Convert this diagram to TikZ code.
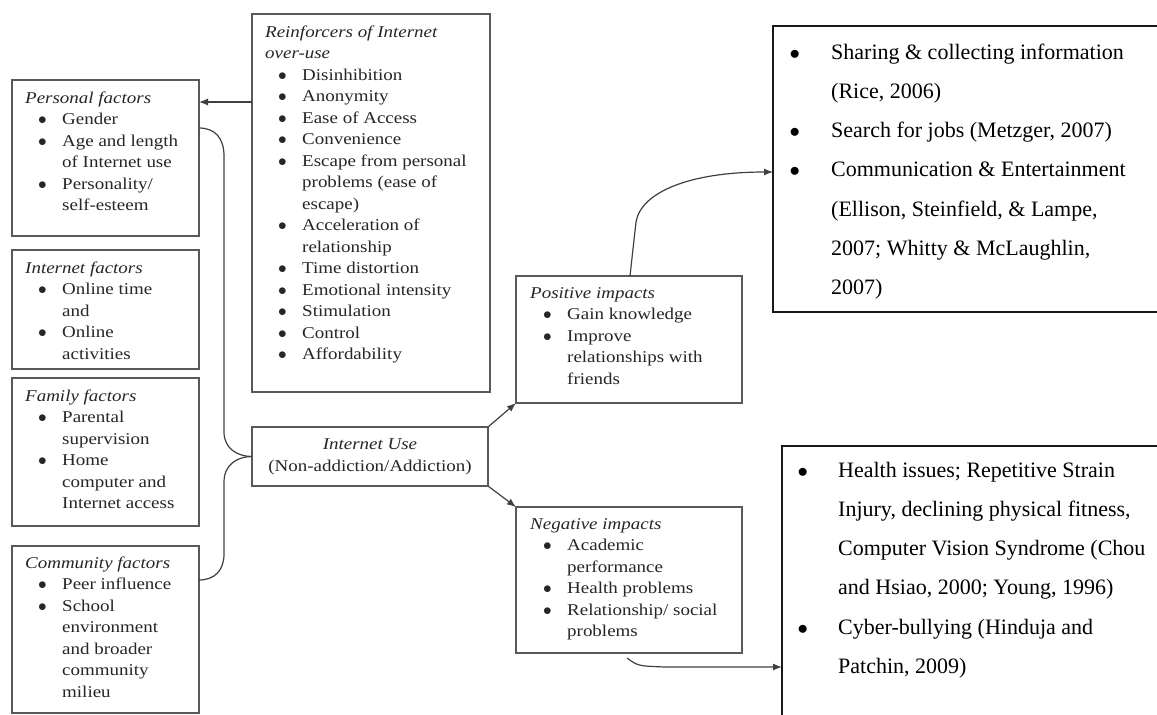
\documentclass[tikz,border=0pt]{standalone}
\usepackage{fontspec}
\setmainfont{Liberation Serif}
\newfontfamily\lfont[FakeStretch=1.15]{Liberation Serif}
\usepackage{array}
\usetikzlibrary{arrows.meta}
\newcommand\lsize{\lfont\fontsize{16.5}{21.5}\selectfont}
\newcommand\rsize{\fontsize{22}{39.2}\selectfont}
\newcommand\bul{$\bullet$}
\newcommand\ttl[1]{\multicolumn{3}{@{}l@{}}{\itshape #1}\\}
\newcommand\bitem[1]{& \bul & #1\\}
\newcommand\citem[1]{& & #1\\}
\newenvironment{ltab}{\lsize\begin{tabular}{@{}p{13pt}@{}p{24pt}@{}l@{}}}{\end{tabular}}
\tikzset{
  box/.style={draw=black!65, line width=1.5pt, anchor=north west, inner sep=0pt, outer sep=0pt},
  rbox/.style={draw=black!90, line width=1.3pt, anchor=north west, inner sep=0pt, outer sep=0pt},
  txt/.style={anchor=north west, inner sep=0pt, text=black!85},
  conn/.style={draw=black!75, line width=1.2pt},
  arr/.style={conn, -{Latex[length=9pt,width=7pt]}}
}
\begin{document}
\begin{tikzpicture}[x=1pt,y=-1pt]
\useasboundingbox (0,0) rectangle (1157,715);
\clip (0,0) rectangle (1157,715);
\fill[white] (0,0) rectangle (1157,715);

% left boxes
\node[box, minimum width=187pt, minimum height=156pt] (personal) at (12,80) {};
\node[txt] (personalT) at ([shift={(13,8)}]personal.north west) {\begin{ltab}
\ttl{Personal factors}
\bitem{Gender}
\bitem{Age and length}
\citem{of Internet use}
\bitem{Personality/}
\citem{self-esteem}
\end{ltab}};

\node[box, minimum width=187pt, minimum height=119pt] (inet) at (12,250) {};
\node[txt] (inetT) at ([shift={(13,8)}]inet.north west) {\begin{ltab}
\ttl{Internet factors}
\bitem{Online time}
\citem{and}
\bitem{Online}
\citem{activities}
\end{ltab}};

\node[box, minimum width=187pt, minimum height=148pt] (family) at (12,378) {};
\node[txt] (familyT) at ([shift={(13,8)}]family.north west) {\begin{ltab}
\ttl{Family factors}
\bitem{Parental}
\citem{supervision}
\bitem{Home}
\citem{computer and}
\citem{Internet access}
\end{ltab}};

\node[box, minimum width=187pt, minimum height=167pt] (community) at (12,546) {};
\node[txt] (communityT) at ([shift={(13,7)}]community.north west) {\begin{ltab}
\ttl{Community factors}
\bitem{Peer influence}
\bitem{School}
\citem{environment}
\citem{and broader}
\citem{community}
\citem{milieu}
\end{ltab}};

% reinforcers
\node[box, minimum width=238pt, minimum height=378pt] (reinf) at (252,14) {};
\node[txt] (reinfT) at ([shift={(13,8)}]reinf.north west) {\begin{ltab}
\ttl{Reinforcers of Internet}
\ttl{over-use}
\bitem{Disinhibition}
\bitem{Anonymity}
\bitem{Ease of Access}
\bitem{Convenience}
\bitem{Escape from personal}
\citem{problems (ease of}
\citem{escape)}
\bitem{Acceleration of}
\citem{relationship}
\bitem{Time distortion}
\bitem{Emotional intensity}
\bitem{Stimulation}
\bitem{Control}
\bitem{Affordability}
\end{ltab}};

% internet use
\node[box, minimum width=236pt, minimum height=59pt, align=center, text=black!85,
  font=\lfont\fontsize{16.5}{22}\selectfont] (iu) at (252,427)
  {\itshape Internet Use\\(Non-addiction/Addiction)};

% impacts
\node[box, minimum width=226pt, minimum height=127pt] (pos) at (516,276) {};
\node[txt] (posT) at ([shift={(14,7)}]pos.north west) {\begin{ltab}
\ttl{Positive impacts}
\bitem{Gain knowledge}
\bitem{Improve}
\citem{relationships with}
\citem{friends}
\end{ltab}};

\node[box, minimum width=226pt, minimum height=146pt] (neg) at (516,507) {};
\node[txt] (negT) at ([shift={(14,7)}]neg.north west) {\begin{ltab}
\ttl{Negative impacts}
\bitem{Academic}
\citem{performance}
\bitem{Health problems}
\bitem{Relationship/ social}
\citem{problems}
\end{ltab}};

% right boxes
\node[rbox, minimum width=420pt, minimum height=286pt] (tr) at (773,26) {};
\node[txt, text=black] (trT) at ([shift={(16.5,5.6)}]tr.north west) {\rsize\begin{tabular}{@{}p{41.5pt}@{}l@{}}
\bul & Sharing \& collecting information\\
& (Rice, 2006)\\
\bul & Search for jobs (Metzger, 2007)\\
\bul & Communication \& Entertainment\\
& (Ellison, Steinfield, \& Lampe,\\
& 2007; Whitty \& McLaughlin,\\
& 2007)\\
\end{tabular}};

\node[rbox, minimum width=420pt, minimum height=320pt] (br) at (782,446) {};
\node[txt, text=black] (brT) at ([shift={(15.5,3.6)}]br.north west) {\rsize\begin{tabular}{@{}p{40.5pt}@{}l@{}}
\bul & Health issues; Repetitive Strain\\
& Injury, declining physical fitness,\\
& Computer Vision Syndrome (Chou\\
& and Hsiao, 2000; Young, 1996)\\
\bul & Cyber-bullying (Hinduja and\\
& Patchin, 2009)\\
\end{tabular}};

% connectors
\coordinate (rA) at ([shift={(0,88)}]reinf.north west);
\coordinate (pA) at ([shift={(0,22)}]personal.north east);
\draw[arr] (rA) -- (pA);

\coordinate (pB) at ([shift={(0,48)}]personal.north east);
\coordinate (cB) at ([shift={(0,34)}]community.north east);
\coordinate (iuW) at (iu.west);
\draw[conn] (pB) .. controls (215,128) and (224,138) .. (224,156) -- (224,432)
  .. controls (224,449) and (238,456.5) .. (iuW);
\draw[conn] (cB) .. controls (215,580) and (224,570) .. (224,554) -- (224,482)
  .. controls (224,464) and (238,456.5) .. (iuW);

\draw[arr] (iu.north east) -- (pos.south west);
\draw[arr] (iu.south east) -- (neg.north west);

\coordinate (posS) at ([shift={(114,0)}]pos.north west);
\coordinate (trE) at ([shift={(0,146)}]tr.north west);
\draw[arr] (posS) -- (636,222) .. controls (641,192) and (690,172) .. (trE);

\coordinate (negS) at ([shift={(111,5)}]neg.south west);
\coordinate (brE) at ([shift={(0,221)}]br.north west);
\draw[arr] (negS) .. controls (638,666) .. (665,667) -- (brE);
\end{tikzpicture}
\end{document}
